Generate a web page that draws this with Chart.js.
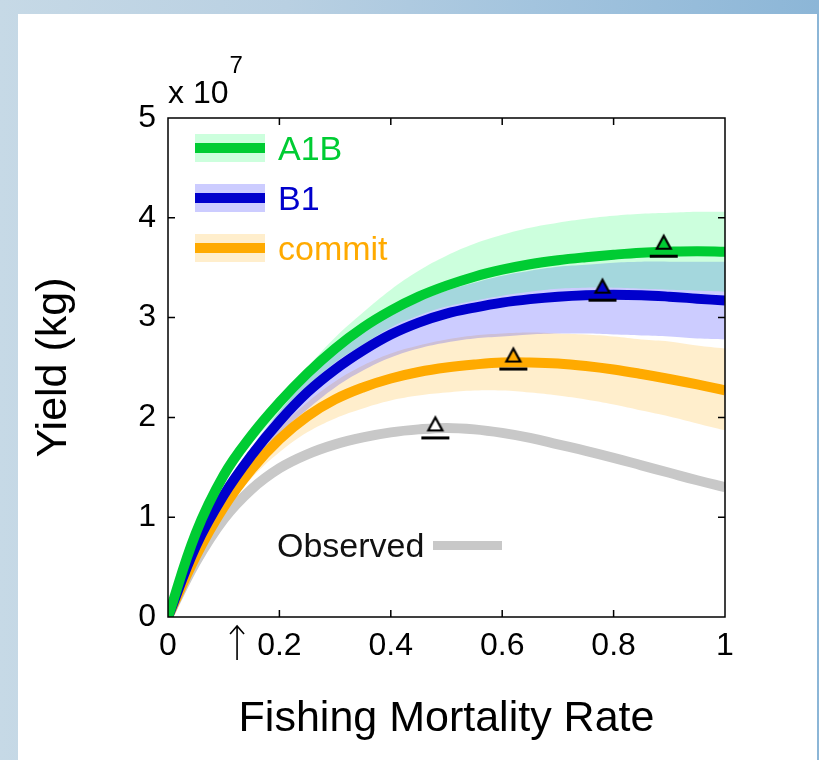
<!DOCTYPE html>
<html>
<head>
<meta charset="utf-8">
<title>Yield vs fishing mortality</title>
<script src="https://cdn.jsdelivr.net/npm/chart.js@4.4.0/dist/chart.umd.min.js"></script>
<style>
  html, body { margin: 0; padding: 0; }
  body {
    width: 819px; height: 760px; overflow: hidden; position: relative;
    background: linear-gradient(90deg, #c6d9e6 0%, #b9d0e2 35%, #a3c4de 65%, #8cb6d7 100%);
  }
  #panel { position: absolute; left: 18px; top: 14px; width: 799px; height: 746px; background: #fff; }
  #wrap { position: absolute; left: 0; top: 0; width: 819px; height: 760px; }
</style>
</head>
<body>
<div id="panel"></div>
<div id="wrap"><canvas id="chart" width="819" height="760"></canvas></div>
<script>
// fishing mortality rate (x) and yields in units of 1e7 kg
const fishingRate = [0, 0.05, 0.1, 0.15, 0.2, 0.25, 0.3, 0.35, 0.4, 0.45, 0.5,
                     0.55, 0.6, 0.65, 0.7, 0.75, 0.8, 0.85, 0.9, 0.95, 1];

const a1bYield = [0, 0.84, 1.42, 1.82, 2.15, 2.44, 2.69, 2.90, 3.07, 3.21, 3.32,
                  3.41, 3.48, 3.535, 3.575, 3.605, 3.63, 3.65, 3.66, 3.665, 3.66];
const a1bUpper = [0, 0.86, 1.45, 1.85, 2.18, 2.50, 2.80, 3.05, 3.28, 3.47, 3.62,
                  3.74, 3.83, 3.90, 3.95, 3.99, 4.02, 4.04, 4.05, 4.06, 4.06];
const a1bLower = [0, 0.82, 1.38, 1.74, 2.04, 2.31, 2.55, 2.73, 2.90, 3.02, 3.11,
                  3.17, 3.22, 3.26, 3.29, 3.30, 3.30, 3.29, 3.28, 3.27, 3.26];

const b1Yield = [0, 0.71, 1.22, 1.62, 1.96, 2.25, 2.48, 2.67, 2.83, 2.95, 3.04,
                 3.10, 3.15, 3.185, 3.21, 3.225, 3.23, 3.225, 3.21, 3.19, 3.17];
const b1Upper = [0, 0.73, 1.27, 1.70, 2.06, 2.38, 2.64, 2.85, 3.02, 3.16, 3.27,
                 3.35, 3.42, 3.47, 3.51, 3.53, 3.55, 3.56, 3.56, 3.56, 3.56];
const b1Lower = [0, 0.69, 1.17, 1.53, 1.84, 2.08, 2.30, 2.47, 2.60, 2.69, 2.75,
                 2.79, 2.81, 2.83, 2.84, 2.84, 2.83, 2.82, 2.81, 2.79, 2.78];

const commitYield = [0, 0.61, 1.10, 1.48, 1.78, 2.01, 2.18, 2.30, 2.39, 2.455, 2.50,
                     2.53, 2.55, 2.55, 2.54, 2.515, 2.48, 2.435, 2.385, 2.33, 2.27];
const commitUpper = [0, 0.63, 1.15, 1.56, 1.89, 2.15, 2.36, 2.52, 2.64, 2.72, 2.78,
                     2.82, 2.84, 2.85, 2.84, 2.83, 2.81, 2.78, 2.76, 2.72, 2.69];
const commitLower = [0, 0.59, 1.05, 1.39, 1.65, 1.85, 1.99, 2.09, 2.17, 2.22, 2.25,
                     2.27, 2.27, 2.25, 2.22, 2.18, 2.13, 2.07, 2.01, 1.94, 1.87];

const observedYield = [0, 0.55, 0.98, 1.28, 1.49, 1.63, 1.73, 1.80, 1.85, 1.88, 1.895,
                       1.88, 1.845, 1.795, 1.73, 1.665, 1.595, 1.52, 1.445, 1.37, 1.30];

// maximum sustainable yield markers: A1B, B1, commit, observed
const msyRate = [0.89, 0.78, 0.62, 0.48];
const msyYield = [3.70, 3.26, 2.57, 1.88];

const seriesNames = ['A1B', 'B1', 'commit'];
const observedName = 'Observed';
const xTicks = [0, 0.2, 0.4, 0.6, 0.8, 1];
const yTicks = [0, 1, 2, 3, 4, 5];
const currentRate = 0.124; // arrow under the x axis

const lineColors = ['#00cc33', '#0000cc', '#ffaa00', '#c8c8c8'];
const bandColors = ['rgba(0,255,85,0.2)', 'rgba(0,0,255,0.2)', 'rgba(255,170,0,0.2)'];
const FONT = "'Liberation Sans', Arial, sans-serif";

Chart.defaults.font.family = FONT;
Chart.defaults.color = '#000';

const pts = arr => fishingRate.map((f, i) => ({x: f, y: arr[i]}));

function markerImage(fill) {
  const c = document.createElement('canvas');
  c.width = 32; c.height = 36;
  const g = c.getContext('2d');
  const cx = 16, cy = 18;
  g.beginPath();
  g.moveTo(cx, cy - 12);
  g.lineTo(cx + 7, cy + 1);
  g.lineTo(cx - 7, cy + 1);
  g.closePath();
  g.fillStyle = fill;
  g.fill();
  g.lineWidth = 2.2;
  g.strokeStyle = '#000';
  g.stroke();
  g.fillStyle = '#000';
  g.fillRect(cx - 14, cy + 7, 28, 3);
  return c;
}
const markerStyles = [markerImage(lineColors[0]), markerImage(lineColors[1]),
                      markerImage(lineColors[2]), markerImage('#ffffff')];

const band = (upper, lower, i) => [
  {data: pts(upper), fill: '+1', backgroundColor: bandColors[i], borderWidth: 0,
   pointRadius: 0, tension: 0.4},
  {data: pts(lower), fill: false, borderWidth: 0, pointRadius: 0, tension: 0.4}
];
const line = (arr, i) => ({
  data: pts(arr), borderColor: lineColors[i], borderWidth: 10, pointRadius: 0,
  fill: false, tension: 0.4, borderCapStyle: 'butt'
});

const decor = {
  id: 'decor',
  afterDatasetsDraw(chart) {
    const {ctx, chartArea: a, scales: {x, y}} = chart;
    ctx.save();
    ctx.strokeStyle = '#000';
    ctx.lineWidth = 1.5;
    ctx.strokeRect(a.left, a.top, a.right - a.left, a.bottom - a.top);
    ctx.beginPath();
    xTicks.slice(1, -1).forEach(v => {
      const px = x.getPixelForValue(v);
      ctx.moveTo(px, a.bottom); ctx.lineTo(px, a.bottom - 7);
      ctx.moveTo(px, a.top); ctx.lineTo(px, a.top + 7);
    });
    yTicks.slice(1, -1).forEach(v => {
      const py = y.getPixelForValue(v);
      ctx.moveTo(a.left, py); ctx.lineTo(a.left + 7, py);
      ctx.moveTo(a.right, py); ctx.lineTo(a.right - 7, py);
    });
    ctx.stroke();

    // legend: band swatch + thick line + label
    seriesNames.forEach((name, i) => {
      const cy = a.top + 30 + i * 50;
      const lx = a.left + 27;
      ctx.fillStyle = bandColors[i];
      ctx.fillRect(lx, cy - 14, 70, 28);
      ctx.fillStyle = lineColors[i];
      ctx.fillRect(lx, cy - 5, 70, 10);
      ctx.font = '34px ' + FONT;
      ctx.textBaseline = 'alphabetic';
      ctx.textAlign = 'left';
      ctx.fillText(name, a.left + 110, cy + 12);
    });

    // observed label
    ctx.font = '34px ' + FONT;
    ctx.fillStyle = '#111';
    ctx.fillText(observedName, a.left + 109, 557);
    ctx.fillStyle = lineColors[3];
    ctx.fillRect(a.left + 265, 541, 69, 9);

    // exponent label
    ctx.fillStyle = '#000';
    ctx.font = '32px ' + FONT;
    ctx.fillText('x 10', a.left, a.top - 15);
    const w = ctx.measureText('x 10').width;
    ctx.font = '24px ' + FONT;
    ctx.fillText('7', a.left + w + 1, a.top - 45);

    // arrow marking current fishing rate
    const ax = x.getPixelForValue(currentRate);
    ctx.lineWidth = 1.6;
    ctx.beginPath();
    ctx.moveTo(ax, a.bottom + 43); ctx.lineTo(ax, a.bottom + 9);
    ctx.moveTo(ax - 7, a.bottom + 17); ctx.lineTo(ax, a.bottom + 9); ctx.lineTo(ax + 7, a.bottom + 17);
    ctx.stroke();
    ctx.restore();
  }
};

new Chart(document.getElementById('chart'), {
  type: 'line',
  data: {
    datasets: [
      ...band(a1bUpper, a1bLower, 0),
      ...band(b1Upper, b1Lower, 1),
      ...band(commitUpper, commitLower, 2),
      line(a1bYield, 0),
      line(b1Yield, 1),
      line(commitYield, 2),
      line(observedYield, 3),
      {
        type: 'scatter', order: -1,
        data: msyRate.map((f, i) => ({x: f, y: msyYield[i]})),
        pointStyle: markerStyles, pointRadius: 10, showLine: false
      }
    ]
  },
  options: {
    responsive: false,
    animation: false,
    events: [],
    layout: {padding: {top: 118, right: 94, left: 0, bottom: 0}},
    plugins: {
      legend: {display: false},
      tooltip: {enabled: false},
      filler: {drawTime: 'beforeDatasetsDraw'}
    },
    scales: {
      x: {
        type: 'linear', min: 0, max: 1,
        afterFit: s => { s.height = 143; },
        afterBuildTicks: s => { s.ticks = xTicks.map(v => ({value: v})); },
        grid: {display: false, drawTicks: false},
        border: {display: false},
        ticks: {font: {size: 32}, color: '#000', padding: 10, maxRotation: 0,
                callback: v => String(v)},
        title: {display: true, text: 'Fishing Mortality Rate', font: {size: 43},
                color: '#000', padding: {top: 0, bottom: 15}}
      },
      y: {
        type: 'linear', min: 0, max: 5,
        afterFit: s => { s.width = 168; },
        afterBuildTicks: s => { s.ticks = yTicks.map(v => ({value: v})); },
        grid: {display: false, drawTicks: false},
        border: {display: false},
        ticks: {font: {size: 32}, color: '#000', padding: 12},
        title: {display: true, text: 'Yield (kg)', font: {size: 43},
                color: '#000', padding: {top: 28, bottom: 0}}
      }
    }
  },
  plugins: [decor]
});
</script>
</body>
</html>
